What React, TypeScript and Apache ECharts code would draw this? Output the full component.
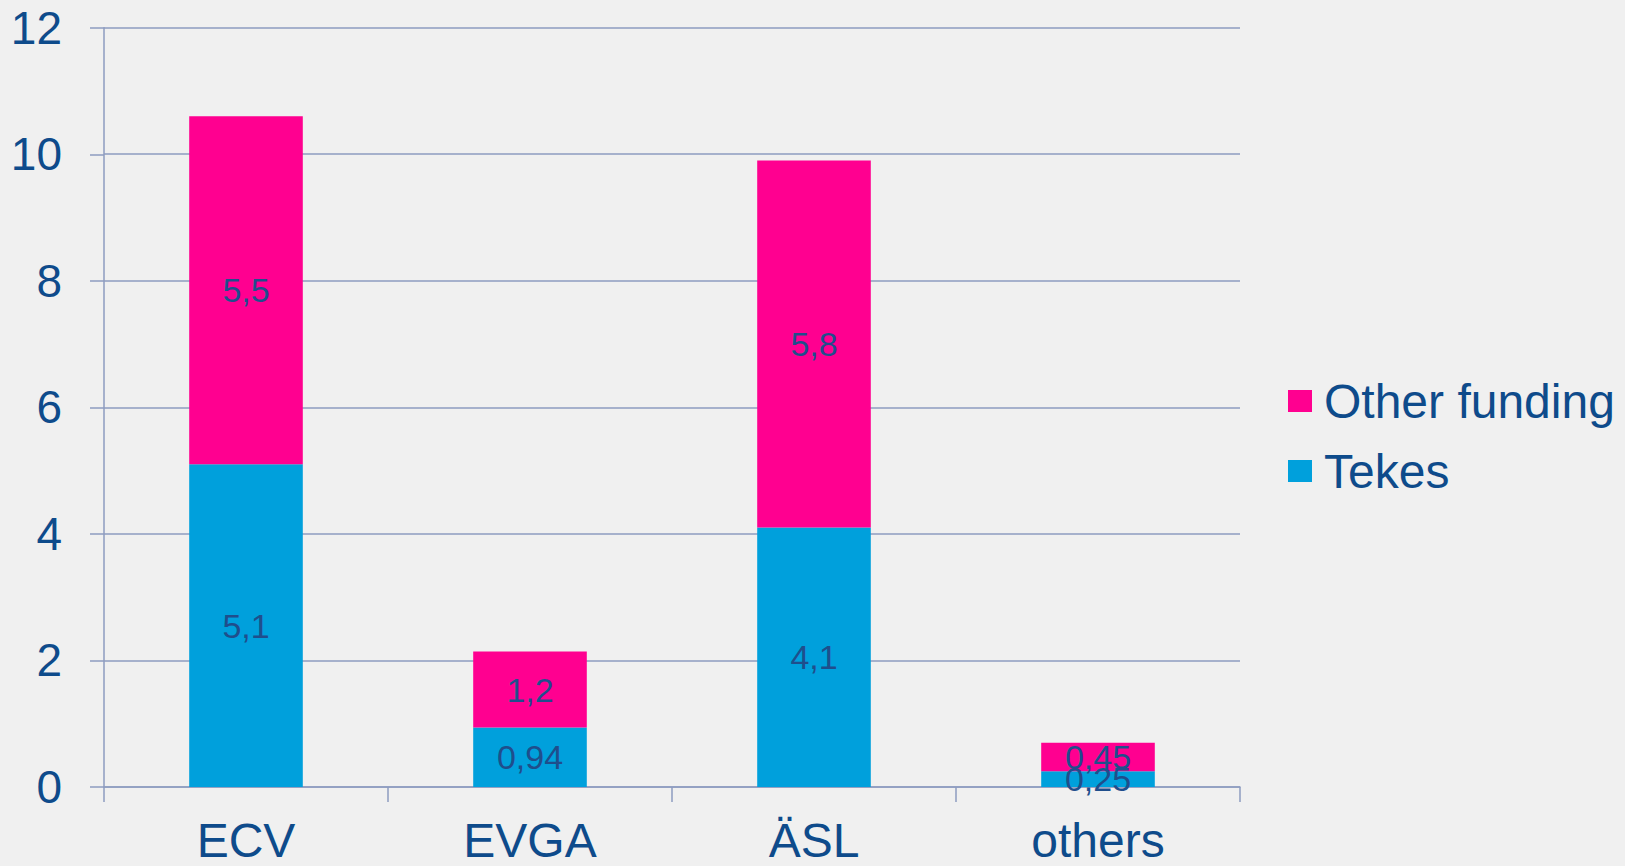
import React, { useEffect, useRef } from "react";
import * as echarts from "echarts";

const categories = ["ECV", "EVGA", "ÄSL", "others"];
const tekesValues = [5.1, 0.94, 4.1, 0.25];
const otherValues = [5.5, 1.2, 5.8, 0.45];
const legendNames = ["Other funding", "Tekes"];
const yTicks = { min: 0, max: 12, interval: 2 };

const TEXT = "#0e4b8b";
const AXIS = "#8e9dc0";
const FONT = "'Liberation Sans', Arial, sans-serif";

export default function App() {
  const ref = useRef<HTMLDivElement>(null);
  useEffect(() => {
    if (!ref.current) return;
    const chart = echarts.init(ref.current, undefined, { renderer: "svg" });
    const fmt = (p: any) => String(p.value).replace(".", ",");
    const label = {
      show: true,
      position: "inside",
      color: "#1f4e8c",
      fontSize: 34,
      fontFamily: FONT,
      formatter: fmt,
    };
    chart.setOption({
      animation: false,
      backgroundColor: "#f0f0f0",
      textStyle: { fontFamily: FONT },
      grid: { left: 104, right: 385, top: 27.7, bottom: 79, containLabel: false },
      legend: {
        data: legendNames,
        orient: "vertical",
        left: 1283,
        top: 372,
        itemWidth: 24,
        itemHeight: 22,
        itemGap: 22,
        icon: "rect",
        textStyle: { color: TEXT, fontSize: 48, fontFamily: FONT, padding: [0, 0, 0, 7] },
      },
      xAxis: {
        type: "category",
        data: categories,
        axisLine: { lineStyle: { color: AXIS, width: 1.5 } },
        axisTick: { show: true, length: 15, lineStyle: { color: AXIS, width: 1.5 } },
        axisLabel: { color: TEXT, fontSize: 48, fontFamily: FONT, margin: 29 },
      },
      yAxis: {
        type: "value",
        min: yTicks.min,
        max: yTicks.max,
        interval: yTicks.interval,
        axisLine: { show: true, lineStyle: { color: AXIS, width: 1.5 } },
        axisTick: { show: true, length: 14, lineStyle: { color: AXIS, width: 1.5 } },
        splitLine: { lineStyle: { color: AXIS, width: 1.5 } },
        axisLabel: { color: TEXT, fontSize: 46, fontFamily: FONT, margin: 42 },
      },
      series: [
        {
          name: "Tekes",
          type: "bar",
          stack: "total",
          data: tekesValues,
          barWidth: "40%",
          itemStyle: { color: "#00a0dc" },
          label,
        },
        {
          name: "Other funding",
          type: "bar",
          stack: "total",
          data: otherValues,
          barWidth: "40%",
          itemStyle: { color: "#ff0090" },
          label,
        },
      ],
    });
    return () => chart.dispose();
  }, []);
  return (
    <div
      ref={ref}
      style={{ position: "fixed", left: 0, top: 0, width: 1625, height: 866 }}
    />
  );
}
